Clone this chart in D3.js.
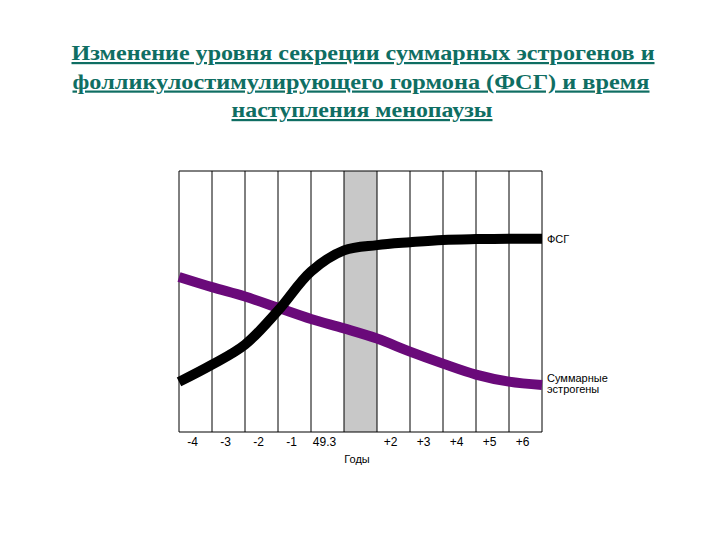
<!DOCTYPE html>
<html><head><meta charset="utf-8">
<script src="https://cdn.jsdelivr.net/npm/d3@7"></script>
<style>body{margin:0;background:#fff}</style>
</head><body>
<svg id="c" width="720" height="540"></svg>
<script>
const titleLines = ["Изменение уровня секреции суммарных эстрогенов и","фолликулостимулирующего гормона (ФСГ) и время","наступления менопаузы"];
const categories = ["-4","-3","-2","-1","49.3","","+2","+3","+4","+5","+6"];
const menopauseIndex = 5;
const xAxisTitle = "Годы";
const fsgX = [0,1,2,3,4,5,6,7,8,9,10,11];
const fsgY = [19.2,25.8,33.5,46.5,61.5,69.6,71.6,72.7,73.6,73.9,74,74];
const estX = [0,1,2,3,4,5,6,7,8,9,10,11];
const estY = [59.4,55.5,51.9,47.6,43.3,39.7,35.8,30.8,26.2,22.0,19.3,18.0];
const fsgLabel = ["ФСГ"];
const estLabel = ["Суммарные","эстрогены"];

const svg = d3.select("#c");
const L=179,R=542,T=171,B=432;
const band = d3.scaleBand().domain(d3.range(categories.length)).range([L,R]).padding(0);
const x = d3.scaleLinear().domain([0,categories.length]).range([L,R]);
const y = d3.scaleLinear().domain([0,100]).range([B,T]);

// title
const titleWidths = [583,577,261];
const tt = svg.append("text").attr("text-anchor","middle")
  .style("font-family","'Liberation Serif','Times New Roman',serif")
  .style("font-weight","bold").style("font-size","22px").attr("fill","#0f6e63")
  .style("text-decoration","underline");
titleLines.forEach((t,i)=>tt.append("tspan").attr("x",[363,361,362][i]).attr("y",60+i*28.5)
  .attr("textLength",titleWidths[i]).attr("lengthAdjust","spacingAndGlyphs").text(t));

// gray band
svg.append("rect").attr("x",band(menopauseIndex)).attr("y",T).attr("width",band.bandwidth()).attr("height",B-T).attr("fill","#c8c8c8");
// grid lines
d3.range(categories.length+1).forEach(i=>{
  svg.append("line").attr("x1",x(i)).attr("x2",x(i)).attr("y1",T).attr("y2",B).attr("stroke","#000").attr("stroke-width",1);
});
svg.append("line").attr("x1",L).attr("x2",R).attr("y1",T).attr("y2",T).attr("stroke","#000");
svg.append("line").attr("x1",L).attr("x2",R).attr("y1",B).attr("y2",B).attr("stroke","#000");

// axis labels
const ax = svg.append("g").attr("transform",`translate(0,${B})`)
  .call(d3.axisBottom(band).tickFormat(i=>categories[i]).tickSize(0).tickPadding(5));
ax.select(".domain").remove();
ax.selectAll("text").style("font-family","'Liberation Sans',Arial,sans-serif").style("font-size","12px").attr("fill","#000").attr("dx","-3");

svg.append("text").attr("x",357).attr("y",463).attr("text-anchor","middle")
  .style("font-family","'Liberation Sans',Arial,sans-serif").style("font-size","11px").text(xAxisTitle);

const line = d3.line().x(d=>x(d[0])).y(d=>y(d[1])).curve(d3.curveCatmullRom.alpha(0.5));
svg.append("path").datum(estX.map((v,i)=>[v,estY[i]])).attr("d",line)
  .attr("fill","none").attr("stroke","#6a0a7a").attr("stroke-width",10);
svg.append("path").datum(fsgX.map((v,i)=>[v,fsgY[i]])).attr("d",line)
  .attr("fill","none").attr("stroke","#000").attr("stroke-width",10);

const lf = "'Liberation Sans',Arial,sans-serif";
svg.append("text").attr("x",547).attr("y",y(fsgY[fsgY.length-1])+4).style("font-family",lf).style("font-size","11px").text(fsgLabel[0]);
estLabel.forEach((t,i)=>svg.append("text").attr("x",547).attr("y",382+i*11).style("font-family",lf).style("font-size","11px").text(t));
</script>
</body></html>
